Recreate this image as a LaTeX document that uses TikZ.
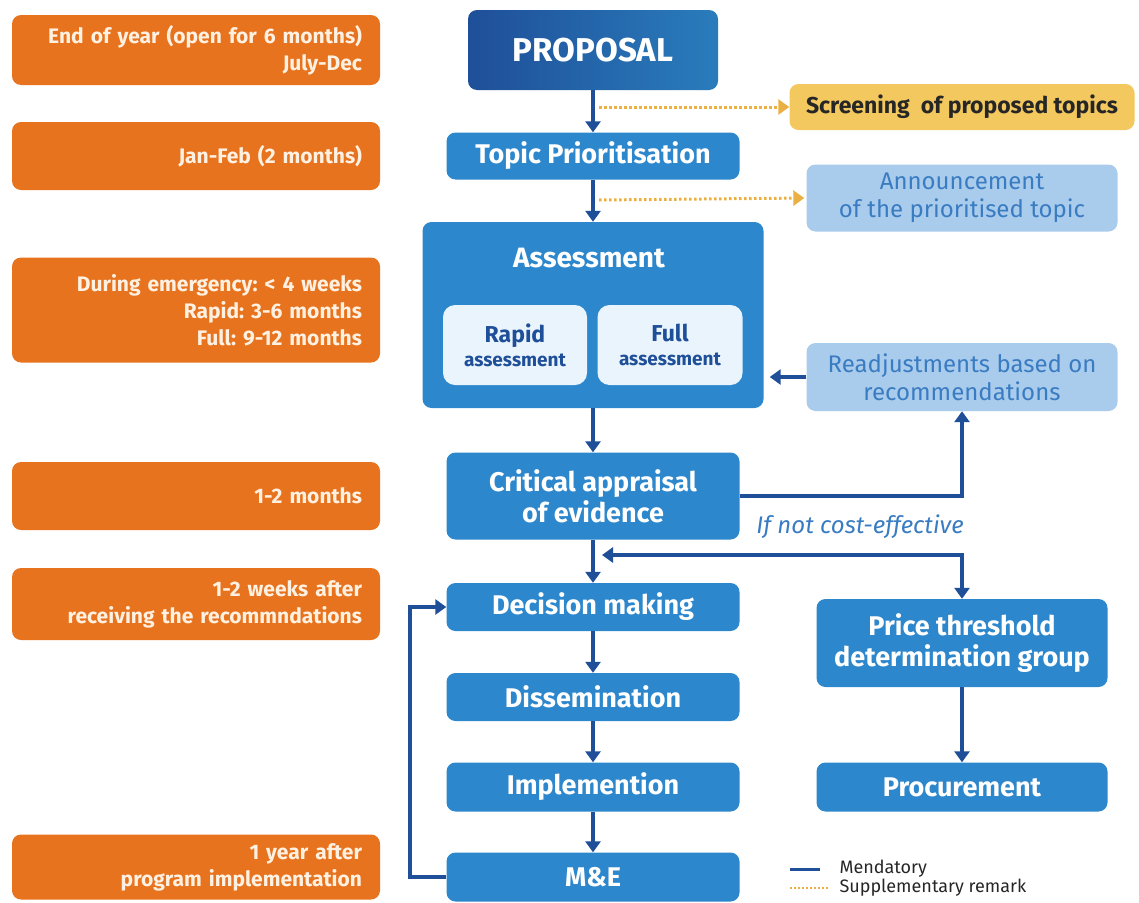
\documentclass[tikz,border=0pt]{standalone}
\usepackage{fontspec}
\setmainfont{Fira Sans}
\frenchspacing
\usetikzlibrary{arrows.meta}
\definecolor{orng}{HTML}{E8731F}
\definecolor{cream}{HTML}{FFF1E2}
\definecolor{stepblue}{HTML}{2D87CC}
\definecolor{darkblue}{HTML}{1F4F99}
\definecolor{paleblue}{HTML}{A9CBEC}
\definecolor{notetext}{HTML}{3A7CC2}
\definecolor{innerbox}{HTML}{EAF4FC}
\definecolor{gold}{HTML}{F3C85E}
\definecolor{dotline}{HTML}{EBB044}

\begin{document}
\begin{tikzpicture}[x=1pt, y=-1pt,
  time/.style = {fill=orng, rounded corners=9, text=cream, align=right, text width=332,
    inner xsep=18, minimum width=368, font=\bfseries\fontsize{21}{27}\selectfont},
  stepbox/.style = {fill=stepblue, rounded corners=9, text=white, align=center,
    minimum width=293, font=\bfseries\fontsize{27}{31}\selectfont},
  inner/.style = {fill=innerbox, rounded corners=12, text=darkblue, align=center,
    minimum height=80, inner xsep=2},
  note/.style = {fill=paleblue, rounded corners=9, text=notetext, align=center,
    minimum width=311, font=\fontsize{24}{28}\selectfont},
  flow/.style = {draw=darkblue, line width=3.4, -{Triangle[width=15,length=11]}},
  dots/.style = {draw=dotline, line width=3, dash pattern=on 2.5 off 2.5,
    -{Triangle[width=15,length=11]}}]
  \useasboundingbox (0,0) rectangle (1139,902);

  % time frames
  \node[time, minimum height=70] (t1) at (196,50) {End of year (open for 6 months)\\July-Dec};
  \node[time, minimum height=68] (t2) at (196,156) {Jan-Feb (2 months)};
  \node[time, minimum height=105] (t3) at (196,310) {During emergency: < 4 weeks\\Rapid: 3-6 months\\Full: 9-12 months};
  \node[time, minimum height=68] (t4) at (196,496) {1-2 months};
  \node[time, minimum height=72] (t5) at (196,604) {1-2 weeks after\\receiving the recommndations};
  \node[time, minimum height=65] (t6) at (196,867) {1 year after\\program implementation};

  % main steps
  \node[rounded corners=9, left color=darkblue, right color=stepblue!92!black, text=white,
    minimum width=250, minimum height=80, font=\bfseries\fontsize{33}{36}\selectfont] (1) at (593,50) {PROPOSAL};
  \node[stepbox, minimum height=47] (2) at (593,156) {Topic Prioritisation};
  \node[stepbox, minimum width=341, minimum height=186] (3) at (593,315) {};
  \node[text=white, font=\bfseries\fontsize{28}{30}\selectfont] (3a) at (589,258) {Assessment};
  \node[inner, minimum width=144, font=\bfseries\fontsize{19}{24}\selectfont] (3b) at (515,345)
    {{\fontsize{23}{26}\selectfont Rapid}\\assessment};
  \node[inner, minimum width=145, font=\bfseries\fontsize{19}{24}\selectfont] (3c) at (670,345)
    {{\fontsize{23}{26}\selectfont Full}\\assessment};
  \node[stepbox, minimum height=87] (4) at (593,496) {Critical appraisal\\of evidence};
  \node[stepbox, minimum height=48] (5) at (593,607) {Decision making};
  \node[stepbox, minimum height=48] (6) at (593,697) {Dissemination};
  \node[stepbox, minimum height=49] (7) at (593,787) {Implemention};
  \node[stepbox, minimum height=49] (8) at (593,877) {M\&E};

  % side boxes
  \node[fill=gold, rounded corners=9, minimum width=345, minimum height=46, text=black!85,
    font=\bfseries\fontsize{23}{26}\selectfont] (s1) at (962,107) {Screening\ \ of proposed topics};
  \node[note, minimum height=67] (s2) at (962,198) {Announcement\\of the prioritised topic};
  \node[note, minimum height=68] (s3) at (962,377) {Readjustments based on\\recommendations};
  \node[stepbox, minimum width=291, minimum height=88] (s4) at (962,643) {Price threshold\\determination group};
  \node[stepbox, minimum width=291, minimum height=49] (s5) at (962,787) {Procurement};
  \node[text=notetext, font=\itshape\fontsize{24}{26}\selectfont] (nc) at (860,527) {If not cost-effective};

  % connectors
  \draw[flow] (1) -- (2);
  \draw[flow] (2) -- (3);
  \draw[flow] (3) -- (4);
  \draw[flow] (4) -- (5);
  \draw[flow] (5) -- (6);
  \draw[flow] (6) -- (7);
  \draw[flow] (7) -- (8);
  \coordinate (d1) at (599,107);
  \coordinate (d2) at (599,200);
  \draw[dots] (d1) -- (s1.west);
  \draw[dots, shorten >=2] (d2) -- (s2.west);
  \draw[flow] (4.east) -| (s3.south);
  \draw[flow, shorten >=6] (s3.west) -- (s3.west -| 3.east);
  \coordinate (j) at (602,555);
  \draw[flow, {Triangle[width=15,length=11]}-{Triangle[width=15,length=11]}] (j) -| (s4.north);
  \draw[flow] (8.west) -- (410,877) |- (5.west);
  \draw[flow] (s4) -- (s5);

  % legend
  \coordinate (l1) at (790,869);
  \coordinate (l2) at (820,869);
  \coordinate (l3) at (790,888);
  \coordinate (l4) at (828,888);
  \draw[darkblue, line width=3] (l1) -- (l2);
  \draw[dotline, line width=2.4, dash pattern=on 2 off 2] (l3) -- (l4);
  \node[anchor=west, text=black!85, font=\fontsize{18}{20}\selectfont] (m1) at (836,869) {Mendatory};
  \node[anchor=west, text=black!85, font=\fontsize{18}{20}\selectfont] (m2) at (836,888) {Supplementary remark};
\end{tikzpicture}
\end{document}
